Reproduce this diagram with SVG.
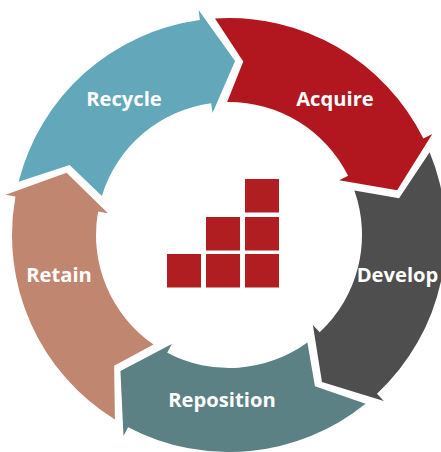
<svg xmlns="http://www.w3.org/2000/svg" width="441" height="452" viewBox="0 0 441 452">
<style>
.lbl{font-family:"Open Sans","Liberation Sans",sans-serif;font-weight:bold;font-size:20.2px;fill:#ffffff;text-anchor:middle}
.sq{fill:#B11E22}
</style>
<rect width="441" height="452" fill="#ffffff"/>
<g id="connectors"></g>
<g id="acquire">
<path fill="#B2171F" d="M 215.00 18.45 A 217 217 0 0 1 423.37 138.51 L 432.33 134.07 L 397.15 190.26 L 339.17 180.31 L 348.13 175.86 A 133 133 0 0 0 227.14 102.01 L 243.26 61.58 Z"/>
<text class="lbl" x="335" y="106">Acquire</text>
</g>
<g id="develop">
<path fill="#4E4E4E" d="M 429.63 152.31 A 217 217 0 0 1 376.99 393.70 L 383.81 401.02 L 321.98 382.08 L 312.89 324.96 L 319.71 332.27 A 133 133 0 0 0 354.37 190.60 L 399.07 198.23 Z"/>
<text class="lbl" x="397.5" y="282">Develop</text>
</g>
<g id="reposition">
<path fill="#5B8184" d="M 365.56 403.64 A 217 217 0 0 1 128.13 427.13 L 123.48 435.98 L 120.44 370.98 L 171.82 343.90 L 167.18 352.76 A 133 133 0 0 0 307.36 342.46 L 314.95 386.29 Z"/>
<text class="lbl" x="222" y="407">Reposition</text>
</g>
<g id="retain">
<path fill="#C1866F" d="M 114.92 419.59 A 217 217 0 0 1 15.43 196.57 L 5.59 194.80 L 66.56 172.64 L 107.94 213.22 L 98.10 211.45 A 133 133 0 0 0 153.48 344.48 L 114.16 365.73 Z"/>
<text class="lbl" x="59" y="282">Retain</text>
</g>
<g id="recycle">
<path fill="#62A8BA" d="M 18.63 181.77 A 217 217 0 0 1 199.92 19.96 L 198.58 10.05 L 235.07 61.11 L 212.52 113.11 L 211.18 103.20 A 133 133 0 0 0 101.88 195.89 L 69.63 165.06 Z"/>
<text class="lbl" x="124" y="106">Recycle</text>
</g>
<g id="icon">
<rect class="sq" x="245" y="179" width="34" height="33.5"/>
<rect class="sq" x="206" y="217" width="34" height="33.5"/>
<rect class="sq" x="245" y="217" width="34" height="33.5"/>
<rect class="sq" x="167" y="254" width="34" height="33.5"/>
<rect class="sq" x="206" y="254" width="34" height="33.5"/>
<rect class="sq" x="245" y="254" width="34" height="33.5"/>
</g>
</svg>
